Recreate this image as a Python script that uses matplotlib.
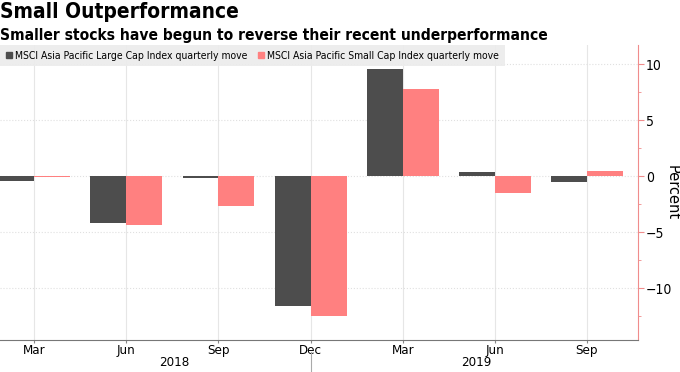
import matplotlib.pyplot as plt
from matplotlib.patches import Patch
import numpy as np

# Donnees (variation trimestrielle en %)
mois = ["Mar", "Jun", "Sep", "Dec", "Mar", "Jun", "Sep"]
annees = ["2018", "2019"]
large_cap = [-0.48, -4.15, -0.18, -11.6, 9.6, 0.4, -0.57]
small_cap = [-0.1, -4.37, -2.7, -12.5, 7.78, -1.55, 0.42]

label_large = "MSCI Asia Pacific Large Cap Index quarterly move"
label_small = "MSCI Asia Pacific Small Cap Index quarterly move"

couleur_large = "#4d4d4d"
couleur_small = "#ff8080"
couleur_axe = "#f08c8c"

plt.rcParams["font.family"] = ["DejaVu Sans"]
plt.rcParams["font.stretch"] = "condensed"

fig = plt.figure(figsize=(6.8, 3.72), dpi=100)
ax = fig.add_axes([0.0, 0.086, 0.938, 0.793])

x = np.arange(len(mois))
w = 0.39
ax.bar(x - w / 2, large_cap, w, color=couleur_large, zorder=3)
ax.bar(x + w / 2, small_cap, w, color=couleur_small, zorder=3)

ax.set_xlim(-0.372, 6.553)
ax.set_ylim(-14.64, 11.7)

# axe des y a droite
ax.yaxis.tick_right()
ax.yaxis.set_label_position("right")
ax.set_yticks([-10, -5, 0, 5, 10])
ax.set_yticks([-12.5, -7.5, -2.5, 2.5, 7.5], minor=True)
ax.tick_params(axis="y", which="both", colors=couleur_axe, labelcolor="black",
               labelsize=10, length=4, pad=2)
ax.tick_params(axis="y", which="minor", length=2)
ax.set_ylabel("Percent", rotation=-90, fontsize=10.5, va="center",
              fontstretch="normal")
ax.yaxis.set_label_coords(1.053, 0.5)

# axe des x
ax.set_xticks(x)
ax.set_xticklabels(mois, fontsize=9.5)
ax.tick_params(axis="x", length=2, pad=1, colors="#888888", labelcolor="black")

for s in ["top", "left"]:
    ax.spines[s].set_visible(False)
ax.spines["right"].set_color(couleur_axe)
ax.spines["bottom"].set_color("#777777")

ax.grid(axis="x", color="#e6e6e6", linewidth=0.8, zorder=0)
ax.grid(axis="y", color="#e0e0e0", linestyle=":", linewidth=0.8, zorder=0)

# annees sous les mois
ax.text(1.52, -0.077, annees[0], transform=ax.get_xaxis_transform(),
        ha="center", va="center", fontsize=9.5)
ax.text(4.8, -0.077, annees[1], transform=ax.get_xaxis_transform(),
        ha="center", va="center", fontsize=9.5)
ax.plot([3, 3], [-0.04, -0.11], transform=ax.get_xaxis_transform(),
        color="#aaaaaa", linewidth=0.8, clip_on=False)

# legende
handles = [Patch(color=couleur_large, label=label_large),
           Patch(color=couleur_small, label=label_small)]
leg = ax.legend(handles=handles, loc="upper left", bbox_to_anchor=(0.0, 1.0),
                ncol=2, frameon=True, fontsize=7.5, handlelength=0.6,
                handleheight=0.6, handletextpad=0.3, columnspacing=1.0,
                borderpad=0.55, borderaxespad=0.0, fancybox=False)
leg.get_frame().set_facecolor("#ececec")
leg.get_frame().set_edgecolor("none")
leg.get_frame().set_alpha(0.9)

# titres
fig.text(0.0, 0.995, "Small Outperformance", fontsize=15, fontweight="bold",
         ha="left", va="top")
fig.text(0.0, 0.925, "Smaller stocks have begun to reverse their recent underperformance",
         fontsize=11.2, fontweight="bold", ha="left", va="top")

fig.savefig("out.png", dpi=100)
